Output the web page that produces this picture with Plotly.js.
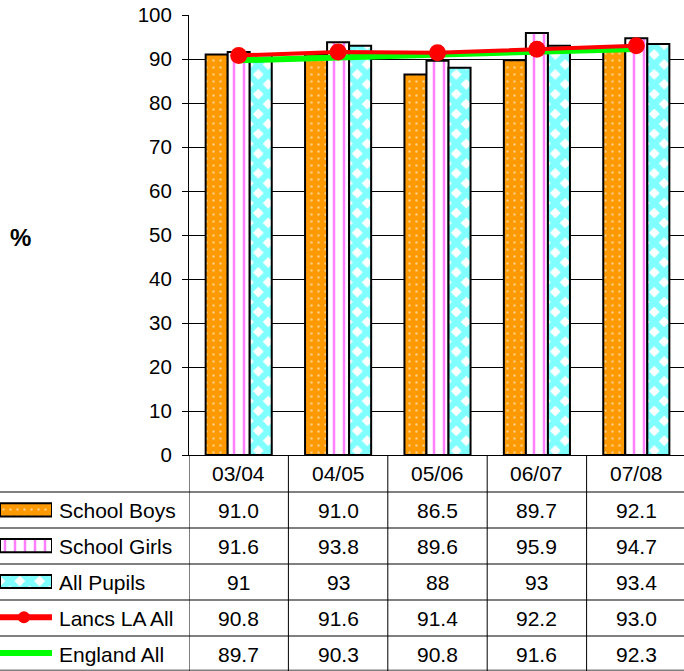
<!DOCTYPE html>
<html><head><meta charset="utf-8">
<script src="https://cdn.plot.ly/plotly-3.0.1.min.js"></script>
<style>html,body{margin:0;padding:0;overflow:hidden;background:#fff}#chart{width:686px;height:671px}</style>
</head><body><div id="chart"></div>
<script>
// ---- data ----
const categories = ['03/04', '04/05', '05/06', '06/07', '07/08'];
const schoolBoys = [91.0, 91.0, 86.5, 89.7, 92.1];
const schoolGirls = [91.6, 93.8, 89.6, 95.9, 94.7];
const allPupils = [91, 93, 88, 93, 93.4];
const lancsAll = [90.8, 91.6, 91.4, 92.2, 93.0];
const englandAll = [89.7, 90.3, 90.8, 91.6, 92.3];
const seriesNames = ['School Boys', 'School Girls', 'All Pupils', 'Lancs LA All', 'England All'];
const yAxisTitle = '%';

// ---- layout helpers ----
const W = 686, H = 671;
const px = x => x / W;
const py = y => 1 - y / H;
const FONT = 'Liberation Sans, Arial, Helvetica, sans-serif';

const boysMarker = {color: '#FF9900', line: {color: '#000', width: 2},
  pattern: {shape: '.', fgcolor: '#FFFFFF', bgcolor: '#FF9900', size: 7, solidity: 0.1, fillmode: 'overlay'}};
const girlsMarker = {color: '#FFFFFF', line: {color: '#000', width: 2},
  pattern: {shape: '|', fgcolor: '#FF00FF', bgcolor: '#FFFFFF', size: 10, solidity: 0.25, fillmode: 'overlay'}};
const allMarker = {color: '#FFFFFF', line: {color: '#000', width: 2},
  pattern: {shape: 'x', fgcolor: '#00FFFF', bgcolor: '#FFFFFF', size: 14, solidity: 0.7, fillmode: 'overlay'}};

const fmt1 = v => v.toFixed(1);
const fmtRaw = v => String(v);
const rows = [
  {name: seriesNames[0], vals: schoolBoys, fmt: fmt1},
  {name: seriesNames[1], vals: schoolGirls, fmt: fmt1},
  {name: seriesNames[2], vals: allPupils, fmt: fmtRaw},
  {name: seriesNames[3], vals: lancsAll, fmt: fmt1},
  {name: seriesNames[4], vals: englandAll, fmt: fmt1}
];

const traces = [
  {type: 'bar', x: categories, y: schoolBoys, name: seriesNames[0], marker: boysMarker},
  {type: 'bar', x: categories, y: schoolGirls, name: seriesNames[1], marker: girlsMarker},
  {type: 'bar', x: categories, y: allPupils, name: seriesNames[2], marker: allMarker},
  {type: 'scatter', mode: 'lines', x: categories, y: englandAll, name: seriesNames[4],
   line: {color: '#00FF00', width: 6}},
  {type: 'scatter', mode: 'lines+markers', x: categories, y: lancsAll, name: seriesNames[3],
   line: {color: '#FF0000', width: 4}, marker: {color: '#FF0000', size: 17}},
  // legend keys inside the data table
  {type: 'bar', orientation: 'h', x: [1], y: [seriesNames[0]], xaxis: 'x2', yaxis: 'y2', width: 0.37, offsetgroup: 'k', marker: boysMarker},
  {type: 'bar', orientation: 'h', x: [1], y: [seriesNames[1]], xaxis: 'x2', yaxis: 'y2', width: 0.37, offsetgroup: 'k', marker: girlsMarker},
  {type: 'bar', orientation: 'h', x: [1], y: [seriesNames[2]], xaxis: 'x2', yaxis: 'y2', width: 0.37, offsetgroup: 'k', marker: allMarker},
  {type: 'scatter', mode: 'lines', x: [0, 1.04], y: [seriesNames[3], seriesNames[3]], xaxis: 'x2', yaxis: 'y2',
   line: {color: '#FF0000', width: 6}, cliponaxis: false},
  {type: 'scatter', mode: 'markers', x: [0.46], y: [seriesNames[3]], xaxis: 'x2', yaxis: 'y2',
   marker: {color: '#FF0000', size: 12}, cliponaxis: false},
  {type: 'scatter', mode: 'lines', x: [0, 1.04], y: [seriesNames[4], seriesNames[4]], xaxis: 'x2', yaxis: 'y2',
   line: {color: '#00FF00', width: 6}, cliponaxis: false}
];

const annotations = [];
// header row: category labels
categories.forEach(c => annotations.push({xref: 'x', yref: 'paper', x: c, y: py(473), text: c,
  showarrow: false, xanchor: 'center', yanchor: 'middle', font: {family: FONT, size: 21, color: '#000'}}));
// row labels and values
rows.forEach(r => {
  annotations.push({xref: 'paper', yref: 'y2', x: px(57), y: r.name, text: r.name, showarrow: false,
    xanchor: 'left', yanchor: 'middle', yshift: -1, font: {family: FONT, size: 21, color: '#000'}});
  r.vals.forEach((v, j) => annotations.push({xref: 'x', yref: 'y2', x: categories[j], y: r.name,
    text: r.fmt(v), showarrow: false, xanchor: 'center', yanchor: 'middle', yshift: -1,
    font: {family: FONT, size: 21, color: '#000'}}));
});
// y axis title
annotations.push({xref: 'paper', yref: 'paper', x: px(20), y: py(237), text: '<b>' + yAxisTitle + '</b>',
  showarrow: false, xanchor: 'center', yanchor: 'middle', font: {family: FONT, size: 24, color: '#000'}});

const shapes = [];
[492, 528, 564, 600, 636, 670.5].forEach(y => shapes.push({type: 'line', xref: 'paper', yref: 'paper',
  x0: 0, x1: 1, y0: py(y), y1: py(y), line: {color: '#808080', width: 2}}));
for (let k = 0; k <= categories.length; k++) {
  shapes.push({type: 'line', xref: 'x', yref: 'paper', x0: k - 0.5, x1: k - 0.5, y0: 0, y1: py(455),
    line: {color: '#000', width: 1}});
}

const layout = {
  width: W, height: H,
  margin: {l: 0, r: 0, t: 0, b: 0},
  paper_bgcolor: '#fff', plot_bgcolor: '#fff',
  showlegend: false,
  barmode: 'group', bargap: 0.335, bargroupgap: 0,
  font: {family: FONT, size: 20, color: '#000'},
  xaxis: {domain: [px(189), 1], type: 'category', range: [-0.5, 4.5], showticklabels: false,
    ticks: '', showgrid: false, zeroline: false, showline: true, linecolor: '#000', linewidth: 1},
  yaxis: {domain: [py(455), py(15)], range: [0, 100], dtick: 10, tick0: 0, showgrid: true,
    gridcolor: '#000', gridwidth: 1, zeroline: false, showline: true, linecolor: '#000', linewidth: 1,
    ticks: 'outside', ticklen: 6, tickcolor: '#000', tickwidth: 1, ticklabelstandoff: 6,
    tickfont: {family: FONT, size: 20.5, color: '#000'}},
  xaxis2: {domain: [0, px(52)], range: [0, 1], anchor: 'y2', showticklabels: false, showgrid: false,
    zeroline: false, showline: false, ticks: '', fixedrange: true},
  yaxis2: {domain: [0, py(492)], type: 'category', categoryorder: 'array', categoryarray: seriesNames,
    range: [4.5, -0.5], anchor: 'x2', showticklabels: false, showgrid: false, zeroline: false,
    showline: false, ticks: '', fixedrange: true},
  annotations: annotations,
  shapes: shapes
};

Plotly.newPlot('chart', traces, layout, {displayModeBar: false, staticPlot: true});
</script>
</body></html>
